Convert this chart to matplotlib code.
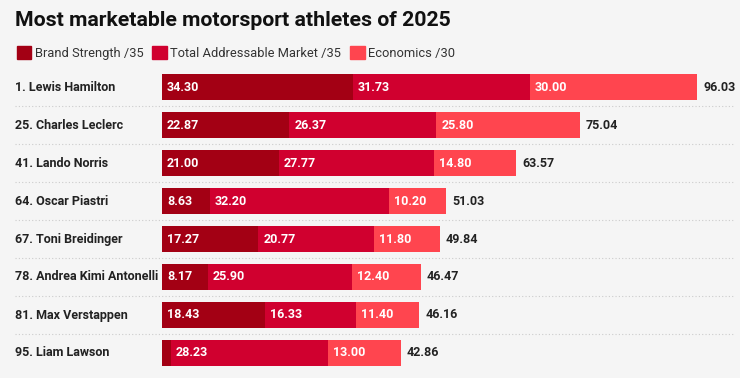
import matplotlib.pyplot as plt
import matplotlib.transforms as mtransforms
from matplotlib.patches import Patch

# datos
athletes = ["1. Lewis Hamilton", "25. Charles Leclerc", "41. Lando Norris", "64. Oscar Piastri",
            "67. Toni Breidinger", "78. Andrea Kimi Antonelli", "81. Max Verstappen", "95. Liam Lawson"]
brand = [34.30, 22.87, 21.00, 8.63, 17.27, 8.17, 18.43, 1.63]
market = [31.73, 26.37, 27.77, 32.20, 20.77, 25.90, 16.33, 28.23]
economics = [30.00, 25.80, 14.80, 10.20, 11.80, 12.40, 11.40, 13.00]
totals = [96.03, 75.04, 63.57, 51.03, 49.84, 46.47, 46.16, 42.86]
series_names = ["Brand Strength /35", "Total Addressable Market /35", "Economics /30"]
colors = ["#a30014", "#d0002f", "#ff454f"]

plt.rcParams["font.family"] = ["Roboto", "DejaVu Sans"]
bg = "#f5f5f5"

fig = plt.figure(figsize=(7.4, 3.78), dpi=100, facecolor=bg)
W, H = 740, 378
ax = fig.add_axes([162 / W, (378 - 372) / H, (740 - 162) / W, 304 / H])
ax.set_facecolor(bg)
ax.set_xlim(0, 578 / 5.57)
ax.set_ylim(7.5, -0.5)
ax.axis("off")

y = list(range(len(athletes)))
left = [0] * len(athletes)
for vals, col in zip([brand, market, economics], colors):
  ax.barh(y, vals, left=left, height=0.71, color=col)
  for i, v in enumerate(vals):
    if v >= 5:
      ax.text(left[i] + 0.9, i, f"{v:.2f}", va="center", ha="left",
              color="white", fontsize=9, fontweight="bold")
  left = [a + b for a, b in zip(left, vals)]

for i, t in enumerate(totals):
  ax.text(left[i] + 1.1, i, f"{t:.2f}", va="center", ha="left",
          color="#222222", fontsize=9, fontweight="bold")

# nombres y separadores
trans = mtransforms.blended_transform_factory(fig.transFigure, ax.transData)
for i, name in enumerate(athletes):
  ax.text(15 / W, i, name, transform=trans, va="center", ha="left",
          color="#222222", fontsize=9, fontweight="bold")
for i in range(len(athletes) - 1):
  ax.plot([15 / W, 735 / W], [i + 0.5, i + 0.5], transform=trans, clip_on=False,
          color="#cccccc", lw=0.8, ls=(0, (1, 2)))

# titulo y leyenda
fig.text(15 / W, 1 - 20 / H, "Most marketable motorsport athletes of 2025", va="center",
         ha="left", fontsize=15.3, fontweight="bold", color="#111111")
handles = [Patch(color=c, label=n) for c, n in zip(colors, series_names)]
fig.legend(handles=handles, loc="center left", bbox_to_anchor=(5 / W, 1 - 53 / H),
           ncol=3, frameon=False, fontsize=9.3, handlelength=1.1, handleheight=1.1,
           handletextpad=0.3, columnspacing=0.7, labelcolor="#333333")

fig.savefig("out.png", dpi=100, facecolor=bg)
